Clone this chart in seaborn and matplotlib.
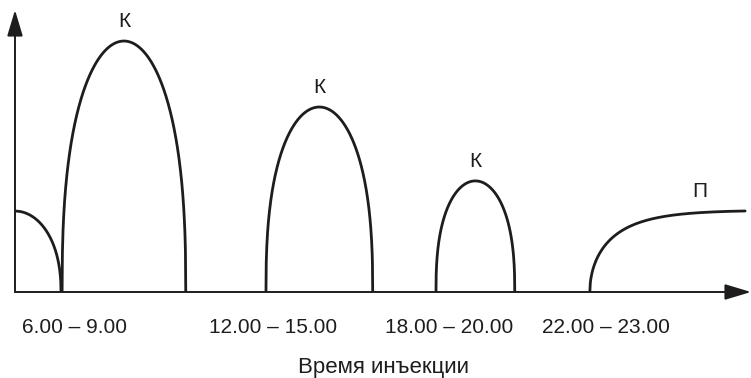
import numpy as np
import pandas as pd
import matplotlib
matplotlib.use("Agg")
import matplotlib.pyplot as plt
import seaborn as sns

# Данные (условные единицы: ось X 0..100, ось Y 0..100)
arch_names = ["К1", "К2", "К3"]
arch_start = [6.4, 34.1, 57.2]
arch_end = [23.2, 48.6, 67.9]
arch_peak = [89.0, 65.6, 39.4]

fall_start_y = 28.7      # кривая у левой оси
fall_end_x = 6.25

rise_start_x = 78.1      # кривая П
rise_end_x = 99.2
rise_level = 29.0

tick_pos = [8.15, 35.1, 59.0, 80.3]
tick_labels = ["6.00 – 9.00", "12.00 – 15.00", "18.00 – 20.00", "22.00 – 23.00"]
x_title = "Время инъекции"

INK = "#1f1c1d"


def build_frame():
    rows = []
    # купола "К"
    for name, a, b, h in zip(arch_names, arch_start, arch_end, arch_peak):
        u = np.linspace(-1, 1, 400)
        x = (a + b) / 2 + u * (b - a) / 2
        y = h * np.clip(1 - u ** 2, 0, None) ** 0.4
        rows.append(pd.DataFrame({"x": x, "y": y, "curve": name}))
    # спадающая кривая у оси Y
    t = np.linspace(0, 1, 200)
    rows.append(pd.DataFrame({"x": t * fall_end_x,
                              "y": fall_start_y * np.clip(1 - t ** 2, 0, None) ** 0.45,
                              "curve": "start"}))
    # кривая "П"
    x = np.linspace(rise_start_x, rise_end_x, 300)
    y = rise_level * np.sqrt(1 - np.exp(-0.19 * (x - rise_start_x)))
    rows.append(pd.DataFrame({"x": x, "y": y, "curve": "П"}))
    return pd.concat(rows, ignore_index=True)


def main():
    sns.set_style("white")
    plt.rcParams["font.family"] = ["Liberation Sans Narrow", "Liberation Sans", "DejaVu Sans"]

    fig = plt.figure(figsize=(7.51, 3.78), dpi=100)
    ax = fig.add_axes([15 / 751, (378 - 292) / 378, 736 / 751, 282 / 378])

    df = build_frame()
    sns.lineplot(data=df, x="x", y="y", units="curve", estimator=None, sort=False,
                 color=INK, linewidth=2.0, ax=ax, legend=False)

    ax.set_xlim(0, 100)
    ax.set_ylim(0, 100)
    for s in ax.spines.values():
        s.set_visible(False)

    # оси со стрелками
    arrow = dict(arrowstyle="-|>,head_length=1.0,head_width=0.3", mutation_scale=16,
                 lw=1.4, color=INK, shrinkA=0, shrinkB=0)
    ax.annotate("", xy=(100, 0), xytext=(0, 0), arrowprops=arrow, annotation_clip=False)
    ax.annotate("", xy=(0, 100), xytext=(0, 0), arrowprops=arrow, annotation_clip=False)

    # подписи К и П
    for a, b, h in zip(arch_start, arch_end, arch_peak):
        ax.annotate("К", xy=((a + b) / 2, h), xytext=(0, 14), textcoords="offset points",
                    ha="center", va="center", fontsize=15, color=INK, family="Liberation Sans")
    ax.text(93.1, 35.5, "П", ha="center", va="center", fontsize=15, color=INK,
            family="Liberation Sans")

    ax.set_xticks(tick_pos)
    ax.set_xticklabels(tick_labels, fontsize=15, color=INK)
    ax.tick_params(axis="x", length=0, pad=19)
    ax.set_yticks([])
    ax.set_xlabel(x_title, fontsize=16, labelpad=14, color=INK)
    ax.set_ylabel("")

    fig.savefig("out.png", dpi=100)


if __name__ == "__main__":
    main()
